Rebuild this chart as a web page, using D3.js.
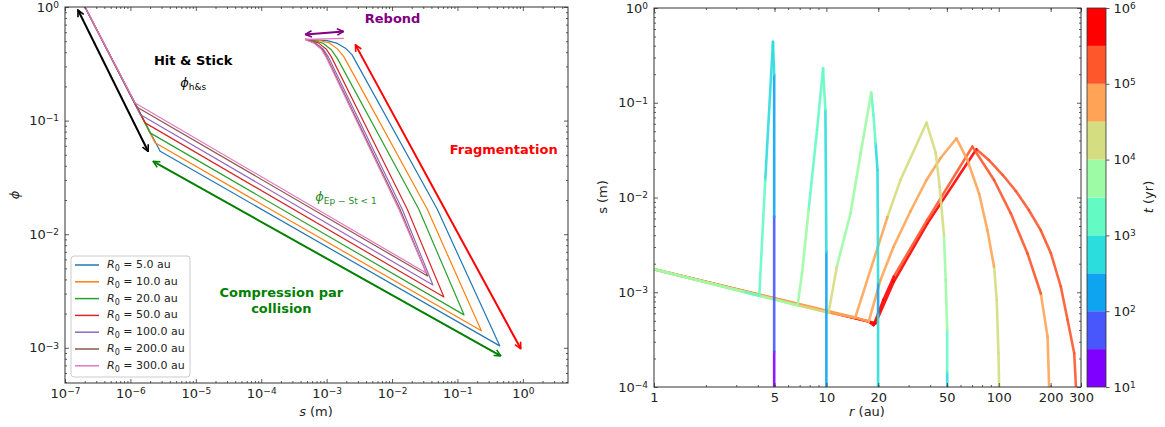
<!DOCTYPE html>
<html>
<head>
<meta charset="utf-8">
<script src="https://cdn.jsdelivr.net/npm/d3@7"></script>
<style>
  body { margin: 0; background: #fff; }
  text { font-family: "DejaVu Sans", sans-serif; }
</style>
</head>
<body>
<svg id="chart" width="1165" height="427"></svg>
<script>
// ---- left panel: porosity phi vs size s, one track per starting radius ----
const radiiLabels = ["5.0", "10.0", "20.0", "50.0", "100.0", "200.0", "300.0"];
const radiiColors = ["#1f77b4", "#ff7f0e", "#2ca02c", "#d62728", "#9467bd", "#8c564b", "#e377c2"];

// [s (m), phi]
const phiR5 = [[2.02e-7, 1.0], [2.85e-6, 0.0538], [0.443, 1.04e-3], [0.0492, 0.01656], [2.45e-3, 0.379], [1.94e-3, 0.434], [1.46e-3, 0.478], [1.02e-3, 0.506], [4.73e-4, 0.519]];
const phiR10 = [[2.02e-7, 1.0], [2.39e-6, 0.0637], [0.232, 1.41e-3], [0.0346, 0.01656], [1.83e-3, 0.366], [1.46e-3, 0.428], [1.10e-3, 0.483], [7.48e-4, 0.510], [4.73e-4, 0.519]];
const phiR20 = [[2.02e-7, 1.0], [2.00e-6, 0.078], [0.126, 1.95e-3], [0.0257, 0.01656], [1.45e-3, 0.355], [1.18e-3, 0.42], [8.93e-4, 0.478], [6.28e-4, 0.51], [4.73e-4, 0.519]];
const phiR50 = [[2.02e-7, 1.0], [1.68e-6, 0.0955], [0.0621, 2.80e-3], [0.0171, 0.01656], [1.18e-3, 0.364], [9.93e-4, 0.424], [7.48e-4, 0.483], [5.64e-4, 0.51], [4.73e-4, 0.519]];
const phiR100 = [[2.02e-7, 1.0], [1.41e-6, 0.113], [0.0422, 3.57e-3], [0.0143, 0.01656], [1.06e-3, 0.364], [8.93e-4, 0.424], [6.73e-4, 0.483], [5.26e-4, 0.51], [4.73e-4, 0.519]];
const phiR200 = [[2.02e-7, 1.0], [1.25e-6, 0.132], [0.035, 4.28e-3], [0.01325, 0.01656], [1.0e-3, 0.364], [8.63e-4, 0.424], [6.5e-4, 0.483], [5.08e-4, 0.51], [4.73e-4, 0.519]];
const phiR300 = [[2.02e-7, 1.0], [1.18e-6, 0.143], [0.0334, 4.55e-3], [0.0127, 0.01656], [9.75e-4, 0.364], [8.32e-4, 0.424], [6.28e-4, 0.483], [4.91e-4, 0.51], [4.73e-4, 0.519], [1.83e-3, 0.529]];
const phiTracks = [phiR5, phiR10, phiR20, phiR50, phiR100, phiR200, phiR300];

// regime arrows [s1, phi1, s2, phi2, colour]
const regimeArrows = [
  [1.58e-7, 0.94, 1.87e-6, 0.0535, "#000000"],
  [2.23e-6, 0.0437, 0.458, 8.5e-4, "#008000"],
  [2.76e-3, 0.464, 0.93, 9.8e-4, "#ff0000"],
  [4.73e-4, 0.574, 1.81e-3, 0.61, "#800080"]
];

// ---- right panel: size s vs radius r, coloured by time ----
// [r (au), s (m), log10 t (yr)]
const trackR5 = [[4.98, 1e-4, 1.2], [4.98, 2.36e-4, 1.5], [4.98, 6.3e-3, 2.0], [4.98, 0.196, 2.5], [4.9, 0.44, 2.7], [4.42, 0.0153, 3.0], [4.08, 9.2e-4, 3.2], [3.29, 1.01e-3, 3.5], [1, 1.75e-3, 3.9]];
const trackR10 = [[10.0, 1e-4, 2.2], [10.0, 2.68e-3, 2.5], [9.87, 0.084, 3.0], [9.64, 0.174, 3.1], [9.57, 0.231, 3.2], [8.83, 0.0516, 3.3], [7.89, 7.4e-3, 3.5], [7.22, 1.58e-3, 3.6], [6.81, 7.3e-4, 3.7], [4.08, 9.2e-4, 3.9], [1, 1.75e-3, 4.2]];
const trackR20 = [[19.95, 1e-4, 2.7], [19.95, 6.0e-4, 2.3], [19.95, 1.25e-3, 2.7], [19.8, 0.0195, 2.8], [19.3, 0.0373, 3.0], [18.75, 0.0743, 3.1], [18.2, 0.128, 3.5], [15.8, 0.029, 3.6], [13.8, 6.8e-3, 3.8], [11.5, 1.86e-3, 4.0], [10.3, 6.1e-4, 4.2], [6.81, 7.3e-4, 4.4], [1, 1.75e-3, 4.7]];
const trackR50 = [[50.3, 1e-4, 2.8], [50.2, 1.45e-4, 3.0], [50.2, 4.0e-4, 3.5], [49.2, 1.35e-3, 3.7], [48.1, 4.0e-3, 4.0], [45.4, 0.013, 4.1], [43.1, 0.0295, 4.2], [38.1, 0.0615, 4.3], [26.9, 0.0153, 4.4], [22.6, 6.2e-3, 4.5], [14.7, 5.4e-4, 4.7], [10.3, 6.1e-4, 4.8], [1, 1.75e-3, 5.2]];
const trackR100 = [[100.5, 1e-4, 4.1], [99.6, 2.27e-4, 4.2], [97.3, 8.3e-4, 4.3], [93.9, 1.86e-3, 4.5], [86, 4.5e-3, 4.6], [76.9, 0.011, 4.7], [65.8, 0.0249, 4.8], [56.8, 0.042, 4.9], [46.0, 0.0261, 4.91], [38.1, 0.0153, 4.92], [30.8, 7.2e-3, 4.93], [24.5, 3.0e-3, 4.94], [20.6, 1.35e-3, 4.95], [17.6, 4.9e-4, 4.96], [14.7, 5.4e-4, 4.98], [1, 1.75e-3, 5.8]];
const trackR200 = [[196, 1e-4, 4.8], [191.9, 3.4e-4, 4.9], [175.4, 9.7e-4, 5.0], [146.7, 2.58e-3, 5.1], [117.4, 6.8e-3, 5.2], [93.9, 0.0153, 5.3], [70.3, 0.0344, 5.4], [38.5, 5.8e-3, 5.45], [24.6, 1.46e-3, 5.5], [21.4, 8.3e-4, 5.6], [18.8, 4.5e-4, 5.7], [17.6, 4.9e-4, 5.8], [1, 1.75e-3, 6.2]];
const trackR300 = [[280.5, 1e-4, 5.0], [274, 2.27e-4, 5.05], [250.8, 5.1e-4, 5.1], [229, 1.15e-3, 5.15], [200.6, 2.58e-3, 5.2], [175.4, 4.5e-3, 5.25], [149.4, 7.38e-3, 5.3], [125.6, 0.01172, 5.35], [105.5, 0.01727, 5.4], [87.5, 0.0249, 5.45], [74.2, 0.0323, 5.5], [38.5, 5.3e-3, 5.6], [24.6, 1.29e-3, 5.7], [19.3, 4.7e-4, 5.8], [17.6, 4.9e-4, 5.9], [1, 1.75e-3, 6.3]];
// drawn outermost first, so the inner tracks end up on top
const rTracks = [trackR300, trackR200, trackR100, trackR50, trackR20, trackR10, trackR5];

const tBounds = [1.5, 2, 2.5, 3, 3.5, 4, 4.5, 5, 5.5];
const tColors = ["#8000ff", "#4757fb", "#0ea4f0", "#2bdddd", "#63fbc3", "#9cfba4", "#d4dd80", "#ffa457", "#ff572c", "#ff0000"];
const rTickValues = [1, 5, 10, 20, 50, 100, 200, 300];

const svg = d3.select("#chart");
const ink = "#222";

const lx = d3.scaleLog().domain([1e-7, 4.9]).range([65, 568]);
const ly = d3.scaleLog().domain([4.9e-4, 1]).range([383, 7]);
const rx = d3.scaleLog().domain([1, 300]).range([654, 1081]);
const ry = d3.scaleLog().domain([1e-4, 1]).range([387, 8]);
const cy = d3.scaleLog().domain([10, 1e6]).range([387, 8]);
const tColor = d3.scaleThreshold().domain(tBounds).range(tColors);

function minorTicks(lo, hi) {
  const out = [];
  for (let e = Math.floor(Math.log10(lo)); e <= Math.ceil(Math.log10(hi)); e++)
    for (let m = 2; m <= 9; m++) {
      const v = m * Math.pow(10, e);
      if (v >= lo * 0.999 && v <= hi * 1.001) out.push(v);
    }
  return out;
}
function decades(lo, hi) {
  const out = [];
  for (let e = Math.ceil(Math.log10(lo) - 1e-9); e <= Math.floor(Math.log10(hi) + 1e-9); e++) out.push(Math.pow(10, e));
  return out;
}
function supLabels(g) {
  g.selectAll(".tick text").each(function (d) {
    const e = Math.round(Math.log10(d));
    const t = d3.select(this).text(null);
    t.append("tspan").text("10");
    t.append("tspan").attr("dy", "-0.42em").attr("font-size", "9px").text(e < 0 ? "\u2212" + (-e) : e);
  });
}
function styleAxis(g) {
  g.select(".domain").remove();
  g.selectAll(".tick line").attr("stroke", "#333").attr("stroke-width", 0.8);
  g.selectAll(".tick text").attr("fill", ink).attr("font-size", "13px");
}

// box with inward ticks on all four sides
function frame(x, y, xMajor, yMajor, xLabels) {
  const [xa, xb] = x.range(), [yb, ya] = y.range();
  const xm = minorTicks(...x.domain()), ym = minorTicks(...y.domain());
  const sides = [
    [d3.axisBottom, x, `translate(0,${yb})`, xMajor, xm, true],
    [d3.axisTop, x, `translate(0,${ya})`, xMajor, xm, false],
    [d3.axisLeft, y, `translate(${xa},0)`, yMajor, ym, true],
    [d3.axisRight, y, `translate(${xb},0)`, yMajor, ym, false]
  ];
  sides.forEach(([ax, sc, tr, maj, min, lab], i) => {
    svg.append("g").attr("transform", tr)
      .call(ax(sc).tickValues(min).tickFormat("").tickSizeInner(-2).tickSizeOuter(0))
      .call(styleAxis);
    const g = svg.append("g").attr("transform", tr)
      .call(ax(sc).tickValues(maj).tickSizeInner(-4).tickSizeOuter(0).tickPadding(6).tickFormat(lab ? (i === 0 && xLabels ? d3.format("d") : "") : ""))
      .call(styleAxis);
    if (lab && !(i === 0 && xLabels)) supLabels(g);
  });
  svg.append("rect").attr("x", xa).attr("y", ya).attr("width", xb - xa).attr("height", yb - ya)
    .attr("fill", "none").attr("stroke", "#333").attr("stroke-width", 1);
}

// ---------- left panel ----------
const defs = svg.append("defs");
defs.append("clipPath").attr("id", "clipL").append("rect")
  .attr("x", 65).attr("y", 7).attr("width", 503).attr("height", 376);
defs.append("clipPath").attr("id", "clipR").append("rect")
  .attr("x", 654).attr("y", 8).attr("width", 427).attr("height", 379);

const phiLine = d3.line().x(d => lx(d[0])).y(d => ly(d[1]));
svg.append("g").attr("clip-path", "url(#clipL)")
  .selectAll("path").data(phiTracks).join("path")
  .attr("d", phiLine).attr("fill", "none")
  .attr("stroke", (d, i) => radiiColors[i]).attr("stroke-width", 1.2)
  .attr("stroke-linejoin", "round");

regimeArrows.forEach(([s1, p1, s2, p2, col], i) => {
  const m = defs.append("marker").attr("id", "head" + i)
    .attr("viewBox", "0 0 10 10").attr("refX", 9).attr("refY", 5)
    .attr("markerWidth", 8).attr("markerHeight", 8).attr("markerUnits", "userSpaceOnUse")
    .attr("orient", "auto-start-reverse");
  m.append("path").attr("d", "M1,1 L9,5 L1,9").attr("fill", "none").attr("stroke", col).attr("stroke-width", 2);
  svg.append("line")
    .attr("x1", lx(s1)).attr("y1", ly(p1)).attr("x2", lx(s2)).attr("y2", ly(p2))
    .attr("stroke", col).attr("stroke-width", 2)
    .attr("marker-start", `url(#head${i})`).attr("marker-end", `url(#head${i})`);
});

frame(lx, ly, decades(1e-7, 4.9), decades(4.9e-4, 1), false);

// annotations, placed in data coordinates
function note(s, phi, col, weight) {
  return svg.append("text").attr("x", lx(s)).attr("y", ly(phi)).attr("text-anchor", "middle")
    .attr("dominant-baseline", "middle").attr("font-size", "13px").attr("fill", col).attr("font-weight", weight);
}
note(9.1e-6, 0.33, "#000", "bold").text("Hit & Stick");
const hs = note(9.1e-6, 0.215, "#000", "normal");
hs.append("tspan").attr("font-style", "italic").text("\u03d5");
hs.append("tspan").attr("font-size", "9px").attr("dy", 4).text("h&s");
note(0.0102, 0.769, "#800080", "bold").text("Rebond");
note(0.509, 0.0546, "#ff0000", "bold").text("Fragmentation");
note(2.03e-4, 3.0e-3, "#008000", "bold").text("Compression par");
note(2.03e-4, 2.18e-3, "#008000", "bold").text("collision");
const ep = note(1.98e-3, 0.0211, "#2a8a2a", "normal");
ep.append("tspan").attr("font-style", "italic").text("\u03d5");
ep.append("tspan").attr("font-size", "9px").attr("dy", 4).text("Ep \u2212 St < 1");

// legend
const leg = svg.append("g");
leg.append("rect").attr("x", 71).attr("y", 256).attr("width", 119).attr("height", 121).attr("rx", 3)
  .attr("fill", "#fff").attr("fill-opacity", 0.8).attr("stroke", "#ccc");
radiiLabels.forEach((lab, i) => {
  const yy = 265 + i * 16.8;
  leg.append("line").attr("x1", 75).attr("x2", 99).attr("y1", yy).attr("y2", yy)
    .attr("stroke", radiiColors[i]).attr("stroke-width", 1.5);
  const t = leg.append("text").attr("x", 107).attr("y", yy).attr("dominant-baseline", "middle")
    .attr("font-size", "11px").attr("fill", ink);
  t.append("tspan").attr("font-style", "italic").text("R");
  t.append("tspan").attr("font-size", "8px").attr("dy", 3).text("0");
  t.append("tspan").attr("dy", -3).text(" = " + lab + " au");
});

svg.append("text").attr("x", 316).attr("y", 416).attr("text-anchor", "middle").attr("font-size", "13px").attr("fill", ink)
  .call(t => { t.append("tspan").attr("font-style", "italic").text("s"); t.append("tspan").text(" (m)"); });
svg.append("text").attr("transform", "translate(19,195) rotate(-90)").attr("text-anchor", "middle")
  .attr("font-size", "13px").attr("font-style", "italic").attr("fill", ink).text("\u03d5");

// ---------- right panel ----------
const trackG = svg.append("g").attr("clip-path", "url(#clipR)");
rTracks.forEach(tr => {
  const segs = d3.pairs(tr);
  trackG.append("g").selectAll("line").data(segs).join("line")
    .attr("x1", d => rx(d[0][0])).attr("y1", d => ry(d[0][1]))
    .attr("x2", d => rx(d[1][0])).attr("y2", d => ry(d[1][1]))
    .attr("stroke", d => tColor(d[0][2])).attr("stroke-width", 2.6)
    .attr("stroke-linecap", "round").attr("stroke-opacity", 0.9);
});

frame(rx, ry, rTickValues, decades(1e-4, 1), true);

svg.append("text").attr("x", 867).attr("y", 416).attr("text-anchor", "middle").attr("font-size", "13px").attr("fill", ink)
  .call(t => { t.append("tspan").attr("font-style", "italic").text("r"); t.append("tspan").text(" (au)"); });
svg.append("text").attr("transform", "translate(607,197) rotate(-90)").attr("text-anchor", "middle")
  .attr("font-size", "13px").attr("fill", ink).text("s (m)");

// colour bar
const tEdges = [1, 1.5, 2, 2.5, 3, 3.5, 4, 4.5, 5, 5.5];
svg.append("g").selectAll("rect").data(tEdges).join("rect")
  .attr("x", 1087).attr("width", 19)
  .attr("y", d => cy(Math.pow(10, d + 0.5)))
  .attr("height", d => cy(Math.pow(10, d)) - cy(Math.pow(10, d + 0.5)))
  .attr("fill", d => tColor(d));
svg.append("rect").attr("x", 1087).attr("y", 8).attr("width", 19).attr("height", 379)
  .attr("fill", "none").attr("stroke", "#333").attr("stroke-width", 0.8);
const cbar = svg.append("g").attr("transform", "translate(1106,0)")
  .call(d3.axisRight(cy).tickValues(decades(10, 1e6)).tickSizeInner(3.5).tickSizeOuter(0).tickPadding(4))
  .call(styleAxis);
supLabels(cbar);
svg.append("text").attr("transform", "translate(1153,197) rotate(-90)").attr("text-anchor", "middle")
  .attr("font-size", "13px").attr("fill", ink)
  .call(t => { t.append("tspan").attr("font-style", "italic").text("t"); t.append("tspan").text(" (yr)"); });
</script>
</body>
</html>
